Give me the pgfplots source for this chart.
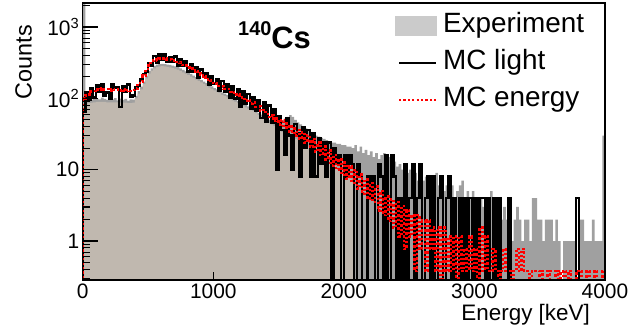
\documentclass[border=0pt]{standalone}
\usepackage{fontspec}
\setmainfont{Liberation Sans}
\usepackage{pgfplots}
\pgfplotsset{compat=1.18}
\usepackage{pgfplotstable}
\definecolor{expgrey}{HTML}{A0A0A0}
\definecolor{beige}{HTML}{C0B8AF}
\definecolor{leggrey}{HTML}{CBCBCB}
\pgfplotstableread{
E r b e g
0 0.01 0.01 0.01 0.01
0 100 65 3000 80
20 110 123 92 84
40 114 95 98 86
60 124 140 96 87
80 127 103 101 88
100 134 153 99 89
120 133 125 97 89
140 138 157 102 89
160 134 108 98 89
180 135 121 95 88
200 130 98 100 88
220 134 160 97 88
240 131 142 101 88
260 134 144 94 88
280 129 76 99 87
300 132 148 95 87
320 127 122 98 87
340 130 156 93 86
360 126 104 97 86
380 131 110 96 87
400 137 142 108 100
420 154 148 126 116
440 173 184 146 134
460 207 221 172 158
480 243 235 206 190
500 288 307 240 222
520 312 286 264 245
540 342 390 284 263
560 349 319 296 274
580 364 422 302 280
600 359 345 304 282
620 363 410 302 280
640 352 326 298 276
660 353 380 294 272
680 340 324 288 267
700 338 386 281 261
720 322 287 273 253
740 315 355 262 243
760 295 287 250 232
780 288 333 239 222
800 269 239 228 212
820 263 303 218 202
840 245 237 208 193
860 239 276 198 184
880 222 196 189 175
900 217 254 180 167
920 201 199 171 159
940 197 227 163 151
960 181 154 155 143
980 178 207 147 136
1000 163 158 139 129
1020 161 188 133 123
1040 148 126 127 118
1060 147 174 121 112
1080 135 124 116 107
1100 135 159 111 103
1120 123 102 106 98
1140 123 147 101 94
1160 112 99 97 90
1180 113 134 92 86
1200 102 76 88 82
1220 103 124 84 78
1240 93 85 81 75
1260 95 116 77 72
1280 85 71 74 69
1300 87 105 71 66
1320 76 66 66 62
1340 77 95 62 58
1360 67 53 59 55
1380 69 87 55 51
1400 64 47 52 48
1420 55 79 50 45
1440 58 45 48 43
1460 48 70 47 41
1480 52 10 46 38
1500 43 56 47 36
1520 49 36 49 34
1540 39 16 52 33
1560 44 52 55 31
1580 34 30 58 30
1600 40 10 55 28
1620 30 44 50 27
1640 36 32 46 26
1660 27 8 43 24.5
1680 33 40 40 23
1700 24 20 38 22
1720 30 36 36 21
1740 21 8 34 20
1760 27 32 32 18.7
1780 18 8 30 17.5
1800 24 28 29 16.4
1820 16 12 28 15.6
1840 21 24 27 14.8
1860 14 8 26 13.9
1880 18.5 24 25 13
1900 11.5 0.01 24 12
1920 16 20 24 11.3
1940 10 12 23 10.6
1960 14 16 23 9.9
1980 8.5 0.01 22 9.2
2000 12.5 16 22 8.6
2020 7.5 8 21 8
2040 11 16 21 7.4
2060 6.5 12 20 6.9
2080 9.8 0.01 22 0.01
2100 5.4 12 18 0.01
2120 8.5 8 21 0.01
2140 4.6 0.01 17 0.01
2160 7.3 0.01 19 0.01
2180 3.9 8 16 0.01
2200 6.5 4 18 0.01
2220 3.5 8 15 0.01
2240 5.8 0.01 17 0.01
2260 2.7 12 14 0.01
2280 5.0 8 16 0.01
2300 2.3 0.01 17 0.01
2320 4.2 16 13 0.01
2340 1.9 0.01 15 0.01
2360 3.8 16 12 0.01
2380 1.54 8 13 0.01
2400 3.5 0.01 11 0.01
2420 1.15 4 12 0.01
2440 3.1 0.01 10 0.01
2460 0.77 12 11 0.01
2480 2.7 0.01 9 0.01
2500 1.15 4 10 0.01
2520 2.3 12 8 0.01
2540 0.38 0.01 9 0.01
2560 2.3 4 7 0.01
2580 0.77 12 8 0.01
2600 1.92 0.01 7 0.01
2620 0.38 4 8 0.01
2640 1.92 8 6 0.01
2660 0.77 0.01 7 0.01
2680 1.54 8 6 0.01
2700 0.38 0.01 9 0.01
2720 1.54 4 6 0.01
2740 0.01 8 7 0.01
2760 1.54 0.01 5 0.01
2780 0.38 4 6 0.01
2800 1.15 8 5 0.01
2820 0.38 0.01 6 0.01
2840 1.15 4 4 0.01
2860 0.01 0.01 5 0.01
2880 1.15 4 6 0.01
2900 0.38 0.01 7 0.01
2920 0.77 4 4 0.01
2940 0.38 0.01 5 0.01
2960 1.15 4 4 0.01
2980 0.38 0.01 5 0.01
3000 0.77 4 4 0.01
3020 0.01 0.01 3 0.01
3040 1.54 4 4 0.01
3060 0.38 4 3 0.01
3080 1.15 0.01 4 0.01
3100 0.38 4 3 0.01
3120 0.38 0.01 5 0.01
3140 0.77 4 3 0.01
3160 0.38 0.01 2 0.01
3180 0.01 4 3 0.01
3200 0.38 0.01 2 0.01
3220 0.77 0.01 3 0.01
3240 0.38 0.01 2 0.01
3260 0.38 4 2 0.01
3280 0.01 0.01 1 0.01
3300 0.38 0.01 2 0.01
3320 0.77 0.01 3 0.01
3340 0.38 0.01 2 0.01
3360 0.77 0.01 1 0.01
3380 0.38 0.01 2 0.01
3400 0.38 0.01 2 0.01
3420 0.01 0.01 1 0.01
3440 0.38 0.01 4 0.01
3460 0.38 0.01 4 0.01
3480 0.38 0.01 2 0.01
3500 0.01 0.01 2 0.01
3520 0.38 0.01 1 0.01
3540 0.38 0.01 2 0.01
3560 0.01 0.01 2 0.01
3580 0.38 0.01 2 0.01
3600 0.38 0.01 1 0.01
3620 0.01 0.01 2 0.01
3640 0.38 0.01 1 0.01
3660 0.01 0.01 0.01 0.01
3680 0.38 0.01 1 0.01
3700 0.01 0.01 1 0.01
3720 0.38 0.01 1 0.01
3740 0.01 0.01 1 0.01
3760 0.01 0.01 1 0.01
3780 0.38 4 0.01 0.01
3800 0.38 0.01 2 0.01
3820 0.01 0.01 2 0.01
3840 0.01 0.01 1 0.01
3860 0.38 0.01 1 0.01
3880 0.01 0.01 1 0.01
3900 0.01 0.01 2 0.01
3920 0.38 0.01 1 0.01
3940 0.01 0.01 1 0.01
3960 0.01 0.01 1 0.01
3980 0.38 0.01 30 0.01
4000 0.01 0.01 0.01 0.01
}\datatable
\begin{document}
\begin{tikzpicture}
\useasboundingbox (0,0) rectangle (630bp,328bp);
\begin{axis}[
  at={(82.7bp,48bp)}, anchor=south west,
  scale only axis, width=522.3bp, height=277bp,
  xmin=0, xmax=4000, ymin=0.284, ymax=2170,
  ymode=log,
  axis on top,
  tick pos=left,
  xtick={0,1000,2000,3000,4000},
  xticklabels={0,1000,2000,3000,4000},
  minor x tick num=0,
  ytick={1,10,100,1000},
  yticklabels={1,10,10\textsuperscript{2},10\textsuperscript{3}},
  minor ytick={0.3,0.4,0.5,0.6,0.7,0.8,0.9,2,3,4,5,6,7,8,9,20,30,40,50,60,70,80,90,200,300,400,500,600,700,800,900,2000},
  tick label style={font=\fontsize{21}{21}\selectfont},
  major tick length=15bp, minor tick length=7bp,
  xtick style={/pgfplots/major tick length=8bp},
  every tick/.style={black, line width=1.1bp},
  axis line style={line width=1.2bp},
  xlabel={Energy [keV]},
  ylabel={Counts},
  xlabel style={at={(axis description cs:0.9713,-0.148)}, anchor=base east, inner sep=0pt, font=\fontsize{22.5}{22.5}\selectfont},
  ylabel style={at={(axis description cs:-0.1133,0.9206)}, anchor=east, inner sep=0pt, font=\fontsize{23.5}{23.5}\selectfont},
  legend style={at={(axis description cs:0.598,0.964)}, anchor=north west, draw=none, fill=none, inner sep=0pt, outer sep=0pt, row sep=11bp, column sep=6bp, font=\fontsize{28}{28}\selectfont, nodes={inner sep=0pt, text height=20bp, text depth=6bp}},
  legend cell align=left,
]
\addplot[const plot mark left, fill=expgrey, draw=none,
  legend image code/.code={\fill[leggrey] (0bp,-10bp) rectangle (42bp,10bp);}]
  table[x=E, y=e]{\datatable};
\addlegendentry{Experiment}
\addplot[const plot mark left, fill=beige, draw=none, forget plot]
  table[x=E, y=g]{\datatable};
\addplot[const plot mark left, black, line width=2.4bp,
  legend image code/.code={\draw[black, line width=1.8bp] (4bp,0bp) -- (41bp,0bp);}]
  table[x=E, y=b]{\datatable};
\addlegendentry{MC light}
\addplot[const plot mark left, red, line width=2.6bp, dash pattern=on 2.4bp off 2bp,
  legend image code/.code={\draw[red, line width=1.8bp, dash pattern=on 2.2bp off 2.2bp] (4bp,0bp) -- (41bp,0bp);}]
  table[x=E, y=r]{\datatable};
\addlegendentry{MC energy}
\node[anchor=base west, inner sep=0pt] at (axis description cs:0.2973,0.834)
  {\bfseries\raisebox{13bp}{\fontsize{20}{20}\selectfont 140}\fontsize{31}{31}\selectfont Cs};
\end{axis}
\end{tikzpicture}
\end{document}
